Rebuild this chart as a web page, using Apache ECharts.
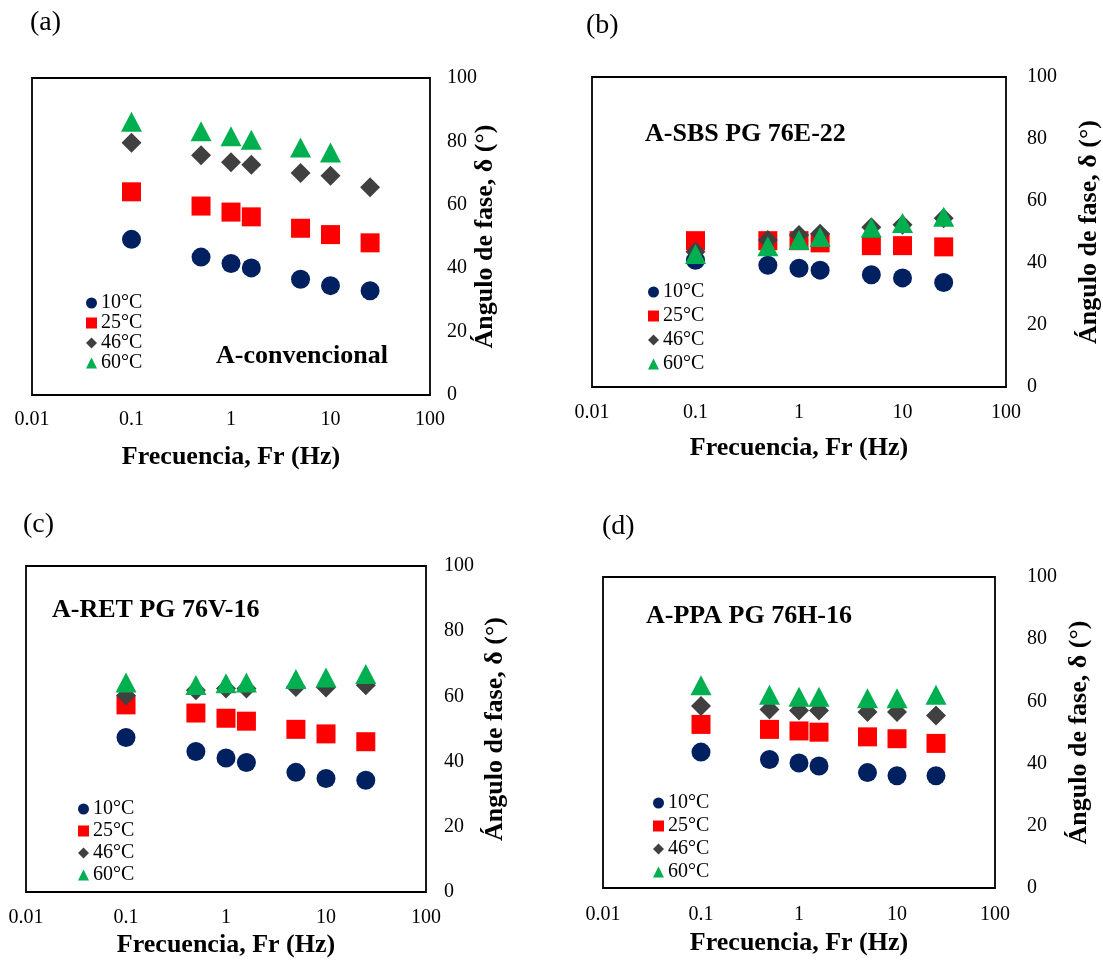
<!DOCTYPE html>
<html>
<head>
<meta charset="utf-8">
<script src="https://cdn.jsdelivr.net/npm/echarts@6/dist/echarts.min.js"></script>
<style>
html,body{margin:0;padding:0;background:#fff;}
#chart{width:1103px;height:960px;}
</style>
</head>
<body>
<div id="chart"></div>
<script>
// ---- data ----
const freq = [0.1, 0.5, 1, 1.6, 5, 10, 25];
const temps = ['10°C', '25°C', '46°C', '60°C'];
const panelLabels = ['(a)', '(b)', '(c)', '(d)'];
const panelTitles = ['A-convencional', 'A-SBS PG 76E-22', 'A-RET PG 76V-16', 'A-PPA PG 76H-16'];
const xTicks = [0.01, 0.1, 1, 10, 100];
const yTicks = [0, 20, 40, 60, 80, 100];

const a10 = [49.1, 43.5, 41.5, 40.1, 36.5, 34.5, 32.9];
const a25 = [64.1, 59.6, 57.7, 56.2, 52.6, 50.6, 48.0];
const a46 = [79.6, 75.6, 73.4, 72.6, 70.0, 69.2, 65.5];
const a60 = [86.2, 83.2, 81.6, 80.5, 78.1, 76.5, null];

const b10 = [40.9, 39.3, 38.3, 37.7, 36.2, 35.2, 33.7];
const b25 = [47.2, 47.2, 47.2, 46.5, 45.6, 45.6, 45.2];
const b46 = [43.6, 47.4, 49.0, 49.4, 51.5, 52.3, 54.4];
const b60 = [42.9, 45.4, 47.4, 48.4, 51.4, 52.9, 54.9];

const c10 = [47.4, 43.1, 41.1, 39.7, 36.7, 34.8, 34.3];
const c25 = [57.4, 54.9, 53.3, 52.4, 49.9, 48.5, 46.1];
const c46 = [60.3, 61.9, 62.4, 62.4, 62.9, 62.7, 63.4];
const c60 = [64.3, 63.5, 64.0, 64.3, 65.3, 65.8, 66.9];

const d10 = [43.7, 41.3, 40.2, 39.2, 37.1, 36.1, 36.1];
const d25 = [52.6, 51.0, 50.5, 50.1, 48.6, 48.0, 46.5];
const d46 = [58.5, 57.4, 57.1, 57.1, 56.6, 56.6, 55.5];
const d60 = [65.2, 62.1, 61.5, 61.5, 61.0, 61.0, 62.1];

const panelData = [[a10, a25, a46, a60], [b10, b25, b46, b60], [c10, c25, c46, c60], [d10, d25, d46, d60]];

// ---- layout / style ----
const FONT = '"Liberation Serif", "Times New Roman", serif';
const grids = [
  {left: 32, top: 78, width: 398, height: 317},
  {left: 592, top: 77, width: 414, height: 310},
  {left: 26, top: 566, width: 400, height: 326},
  {left: 603, top: 577, width: 392, height: 311}
];
const xLabelMargin = [15, 16, 16, 17];
const xNameGap = [49, 48, 40, 42];
const yLabelMargin = [17, 21, 18, 32];
const yNameGap = [42, 70, 56, 71];
const legendPos = [
  {left: 86, top: 293, gap: 0},
  {left: 648, top: 282, gap: 4},
  {left: 78, top: 799, gap: 2},
  {left: 653, top: 793, gap: 3}
];
const titlePos = [
  {left: 216, cy: 356},
  {left: 645, cy: 134},
  {left: 52, cy: 610},
  {left: 646, cy: 616}
];
const labelPos = [
  {left: 30, cy: 23},
  {left: 586, cy: 26},
  {left: 23, cy: 525},
  {left: 602, cy: 527}
];
const symbols = ['circle', 'rect', 'diamond', 'triangle'];
const symSizes = [19, 19, 20, [21, 20]];
const colors = ['#002060', '#FF0000', '#404040', '#00B050'];

const option = {
  animation: false,
  backgroundColor: '#fff',
  grid: [], xAxis: [], yAxis: [], series: [], legend: [], title: []
};

for (let p = 0; p < 4; p++) {
  const g = grids[p];
  option.grid.push({left: g.left, top: g.top, width: g.width, height: g.height,
    show: true, borderColor: '#000', borderWidth: 1.8, backgroundColor: 'transparent', containLabel: false});
  option.xAxis.push({
    type: 'log', logBase: 10, gridIndex: p, min: xTicks[0], max: xTicks[xTicks.length - 1],
    axisLine: {show: false}, axisTick: {show: false}, splitLine: {show: false},
    axisLabel: {margin: xLabelMargin[p], fontFamily: FONT, fontSize: 20, color: '#000',
      formatter: v => String(v)},
    name: 'Frecuencia, Fr (Hz)', nameLocation: 'middle', nameGap: xNameGap[p], nameMoveOverlap: false,
    nameTextStyle: {fontFamily: FONT, fontSize: 26, fontWeight: 'bold', color: '#000'}
  });
  option.yAxis.push({
    type: 'value', gridIndex: p, position: 'right', min: yTicks[0], max: yTicks[yTicks.length - 1], interval: 20,
    axisLine: {show: false}, axisTick: {show: false}, splitLine: {show: false},
    axisLabel: {margin: yLabelMargin[p], fontFamily: FONT, fontSize: 20, color: '#000'},
    name: 'Ángulo de fase, δ (°)', nameLocation: 'middle', nameGap: yNameGap[p], nameRotate: 90,
    nameMoveOverlap: false,
    nameTextStyle: {fontFamily: FONT, fontSize: 26, fontWeight: 'bold', color: '#000'}
  });
  for (let s = 0; s < 4; s++) {
    const vals = panelData[p][s];
    const data = [];
    for (let i = 0; i < freq.length; i++) if (vals[i] != null) data.push([freq[i], vals[i]]);
    option.series.push({
      type: 'scatter', name: temps[s], xAxisIndex: p, yAxisIndex: p,
      symbol: symbols[s], symbolSize: symSizes[s],
      itemStyle: {color: colors[s], opacity: 1},
      emphasis: {disabled: true}, data: data
    });
  }
  const lp = legendPos[p];
  option.legend.push({
    orient: 'vertical', left: lp.left, top: lp.top, padding: 0, itemGap: lp.gap,
    itemWidth: 11, itemHeight: 11, selectedMode: false,
    textStyle: {fontFamily: FONT, fontSize: 20, color: '#000', lineHeight: 20, padding: [0, 0, 0, -1]},
    data: temps.map((t, i) => ({name: t, icon: symbols[i], itemStyle: {color: colors[i]}}))
  });
  option.title.push({
    text: panelTitles[p], left: titlePos[p].left, top: titlePos[p].cy - 13, padding: 0,
    textStyle: {fontFamily: FONT, fontSize: 26, fontWeight: 'bold', color: '#000', lineHeight: 26}
  });
  option.title.push({
    text: panelLabels[p], left: labelPos[p].left, top: labelPos[p].cy - 14, padding: 0,
    textStyle: {fontFamily: FONT, fontSize: 28, fontWeight: 'normal', color: '#000', lineHeight: 28}
  });
}

const chart = echarts.init(document.getElementById('chart'), null, {renderer: 'canvas'});
chart.setOption(option);
</script>
</body>
</html>
